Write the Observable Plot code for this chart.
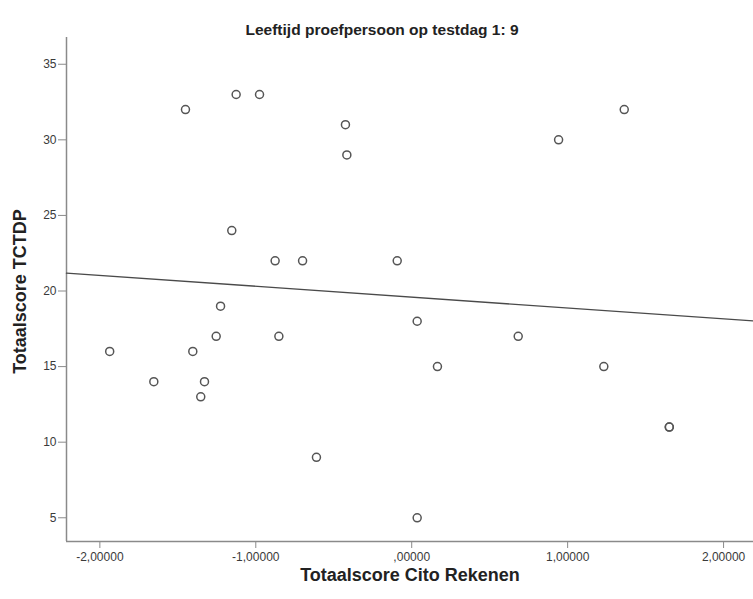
<!DOCTYPE html>
<html>
<head>
<meta charset="utf-8">
<script src="https://cdn.jsdelivr.net/npm/d3@7"></script>
<script src="https://cdn.jsdelivr.net/npm/@observablehq/plot@0.6"></script>
<style>
  html, body { margin: 0; padding: 0; background: #fff; }
  #chart svg { display: block; }
</style>
</head>
<body>
<div id="chart"></div>
<script>
// ---- Data ----
const citoScore = [
  -1.451, -1.126, -0.976, -0.425, -0.416, -1.154, -0.876, -0.700, -0.093,
  -1.226, -1.254, -0.852, -1.937, -1.404, -1.654, -1.329, -1.353, -0.611,
   1.363,  0.942,  0.035,  0.683,  0.165,  1.232,  1.652,  1.652,  0.035
];
const tctdpScore = [
  32, 33, 33, 31, 29, 24, 22, 22, 22,
  19, 17, 17, 16, 16, 14, 14, 13, 9,
  32, 30, 18, 17, 15, 15, 11, 11, 5
];
const xDomain = [-2.214, 2.192];
const yDomain = [3.43, 36.77];
const xTicks = [-2, -1, 0, 1, 2];
const xTickLabels = ["-2,00000", "-1,00000", ",00000", "1,00000", "2,00000"];
const yTicks = [5, 10, 15, 20, 25, 30, 35];
const yTickLabels = ["5", "10", "15", "20", "25", "30", "35"];
const titleText = "Leeftijd proefpersoon op testdag 1: 9";
const xTitle = "Totaalscore Cito Rekenen";
const yTitle = "Totaalscore TCTDP";

// ---- Build table ----
const points = citoScore.map((x, i) => ({x, y: tctdpScore[i]}));

// Least-squares fit line (computed from the data), drawn across the x axis
const mx = d3.mean(citoScore), my = d3.mean(tctdpScore);
const sxy = d3.sum(points, d => (d.x - mx) * (d.y - my));
const sxx = d3.sum(points, d => (d.x - mx) ** 2);
const slope = sxy / sxx, intercept = my - slope * mx;
const fitLine = xDomain.map(x => ({x, y: intercept + slope * x}));

const font = "'Liberation Sans', Arial, sans-serif";
const axisColor = "#8a8a8a";
const labelColor = "#3a3a3a";

const chart = Plot.plot({
  width: 753,
  height: 599,
  marginLeft: 66,
  marginRight: 0,
  marginTop: 37,
  marginBottom: 58,
  style: {fontFamily: font, background: "#fff", overflow: "visible"},
  x: {domain: xDomain, ticks: xTicks},
  y: {domain: yDomain, ticks: yTicks},
  marks: [
    Plot.ruleX([xDomain[0]], {stroke: axisColor, strokeWidth: 1.5}),
    Plot.ruleY([yDomain[0]], {stroke: axisColor, strokeWidth: 1.5}),
    Plot.axisX({
      ticks: xTicks,
      tickSize: 7,
      tickPadding: 4,
      stroke: axisColor,
      fill: labelColor,
      fontSize: 12,
      tickFormat: d => xTickLabels[xTicks.indexOf(d)],
      label: null
    }),
    Plot.axisY({
      ticks: yTicks,
      tickSize: 8,
      tickPadding: 2,
      stroke: axisColor,
      fill: labelColor,
      fontSize: 12,
      tickFormat: d => yTickLabels[yTicks.indexOf(d)],
      label: null
    }),
    Plot.line(fitLine, {x: "x", y: "y", stroke: "#4a4a4a", strokeWidth: 1.4}),
    Plot.dot(points, {x: "x", y: "y", r: 4, stroke: "#555", strokeWidth: 1.5, fill: "none"}),
    Plot.text([titleText], {frameAnchor: "top", dy: -14, dx: -28, fontSize: 15.5, fontWeight: "bold", fill: "#222"}),
    Plot.text([xTitle], {frameAnchor: "bottom", dy: 39, fontSize: 18, fontWeight: "bold", fill: "#222"}),
    Plot.text([yTitle], {frameAnchor: "left", textAnchor: "middle", dx: -46, dy: 2, rotate: -90, fontSize: 18, fontWeight: "bold", fill: "#222"})
  ]
});
document.getElementById("chart").appendChild(chart);
</script>
</body>
</html>
